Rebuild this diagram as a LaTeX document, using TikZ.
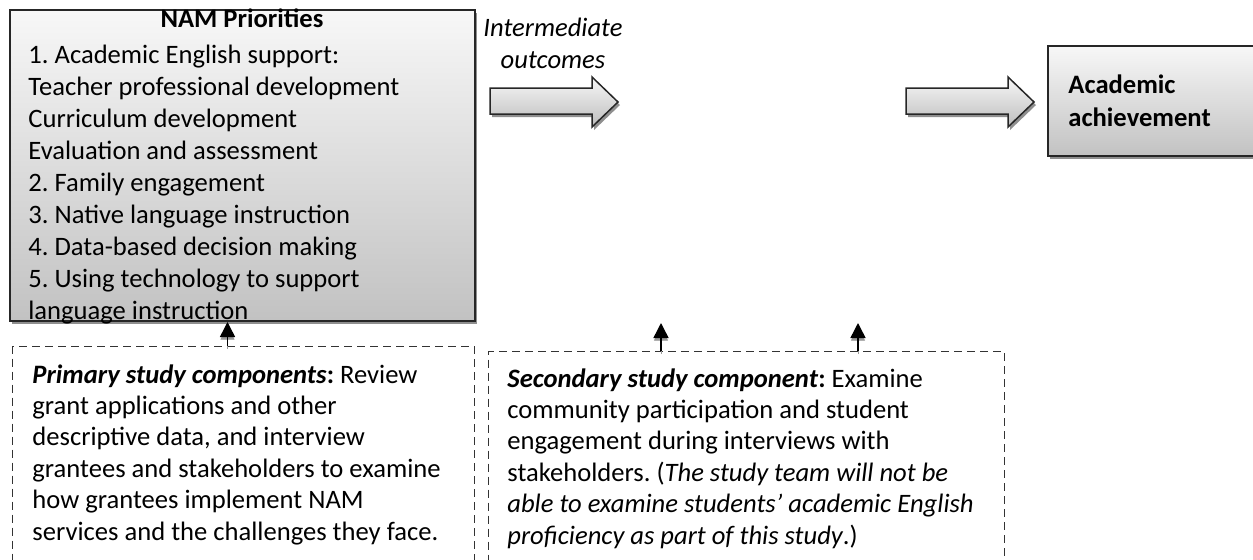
\documentclass[tikz,border=0pt]{standalone}
\usepackage{fontspec}
\setmainfont{Carlito}
\frenchspacing
\usetikzlibrary{positioning,shadows,arrows.meta}
\tikzset{
  greybox/.style={draw=black!85, line width=1pt, top color=black!3, bottom color=black!24,
    drop shadow={shadow xshift=1pt, shadow yshift=-1.5pt, fill=black!55, opacity=.8}, inner sep=0pt},
  blockarrow/.style={draw=black!85, line width=.75pt, top color=black!3, bottom color=black!26,
    drop shadow={shadow xshift=1pt, shadow yshift=-1.5pt, fill=black!55, opacity=.8}},
  studybox/.style={draw=black!80, line width=.5pt, dash pattern=on 4pt off 2.5pt, inner sep=0pt},
  studyarrow/.style={line width=.75pt, -{Triangle[width=7.5pt,length=7.5pt]},
    preaction={draw=black!40, transform canvas={yshift=-1.5pt}}},
  txt/.style={inner sep=0pt, align=left, font=\fontsize{13.3}{16}\selectfont},
  studytxt/.style={inner sep=0pt, align=left, font=\fontsize{13.3}{15.7}\selectfont}
}
\begin{document}
\begin{tikzpicture}[x=0.5pt,y=-0.5pt]
\useasboundingbox (0,0) rectangle (1253,559);

\node[greybox, minimum width=232.5pt, minimum height=155.5pt, anchor=north west] (nam) at (9,9) {};
\node[txt, anchor=base] (namTitle) at (242,27) {\bfseries NAM Priorities};
\node[txt, anchor=base west] (namList) at (28,319) {1. Academic English support:\\
  Teacher professional development\\Curriculum development\\Evaluation and assessment\\
  2. Family engagement\\3. Native language instruction\\4. Data-based decision making\\
  5. Using technology to support\\language instruction};

\node[txt, align=center, anchor=base, font=\fontsize{13.3}{16}\selectfont\itshape] (inter) at (553,68) {Intermediate\\outcomes};

\foreach \x in {490,906}
  \filldraw[blockarrow] (\x,88) -- ++(102,0) -- ++(0,-11) -- ++(26,25) -- ++(-26,25) -- ++(0,-13) -- ++(-102,0) -- cycle;

\node[greybox, minimum width=115pt, minimum height=55pt, anchor=north west] (goal) at (1047,45) {};
\node[txt, anchor=base west, font=\fontsize{13.3}{16.5}\selectfont\bfseries] (goalText) at (1068,126) {Academic\\achievement};

\node[studybox, minimum width=231pt, minimum height=130pt, anchor=north west] (primary) at (12,346) {};
\node[studytxt, anchor=base west] (primaryText) at (32,540) {\textbf{\textit{Primary study components}:} Review\\
  grant applications and other\\descriptive data, and interview\\grantees and stakeholders to examine\\
  how grantees implement NAM\\services and the challenges they face.};

\node[studybox, minimum width=258pt, minimum height=130pt, anchor=north west] (secondary) at (488,351) {};
\node[studytxt, anchor=base west] (secondaryText) at (507,544) {\textbf{\textit{Secondary study component}:} Examine\\
  community participation and student\\engagement during interviews with\\
  stakeholders. (\textit{The study team will not be}\\\textit{able to examine students’ academic English}\\
  \textit{proficiency as part of this study}.)};

\coordinate (tipA) at (661,323);
\coordinate (tipB) at (858,323);
\draw[studyarrow] ([xshift=-8pt]primary.north) -- ([xshift=-8pt]primary.north |- nam.south);
\foreach \t in {tipA,tipB}
  \draw[studyarrow] (\t |- secondary.north) -- (\t);
\end{tikzpicture}
\end{document}
